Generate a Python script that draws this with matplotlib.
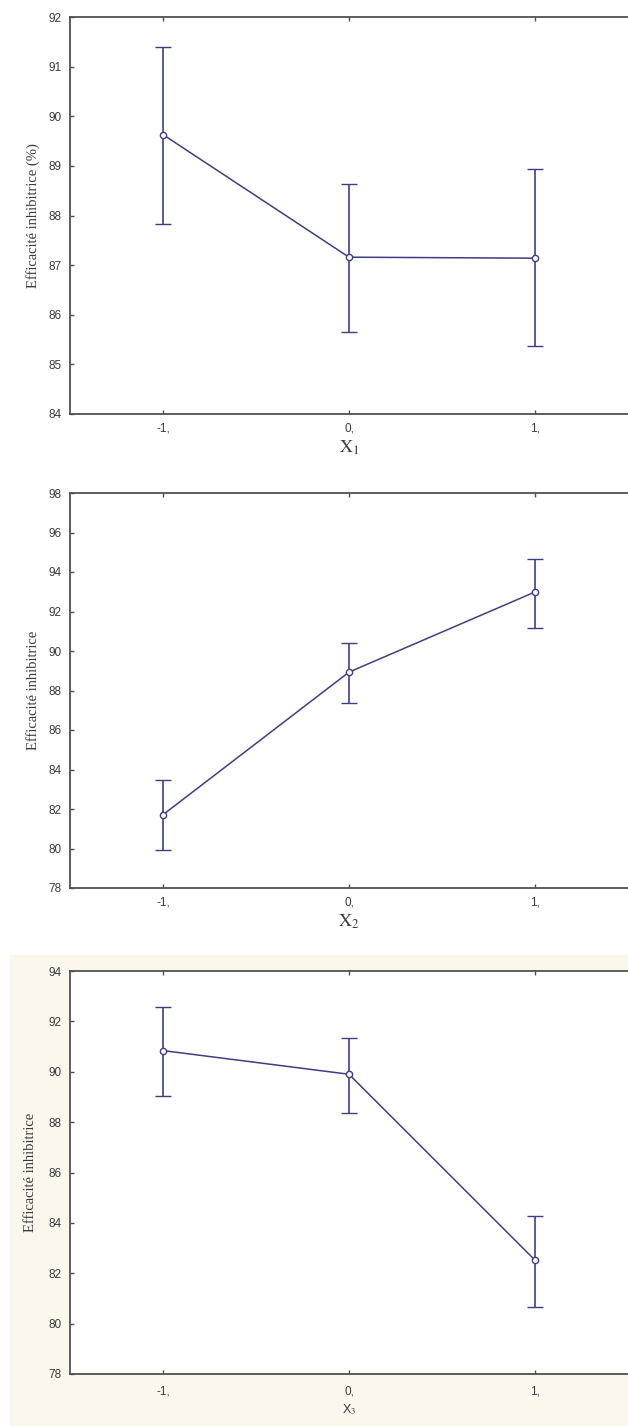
import matplotlib
matplotlib.use("Agg")
import matplotlib.pyplot as plt
from matplotlib.patches import Rectangle

# ---- data ----
levels = [-1, 0, 1]
tick_labels = ["-1,", "0,", "1,"]

x1_mean = [89.63, 87.16, 87.14]
x1_low = [87.83, 85.66, 85.37]
x1_high = [91.39, 88.64, 88.93]

x2_mean = [81.71, 88.93, 92.99]
x2_low = [79.90, 87.36, 91.17]
x2_high = [83.45, 90.38, 94.67]

x3_mean = [90.84, 89.90, 82.52]
x3_low = [89.05, 88.36, 80.66]
x3_high = [92.59, 91.35, 84.28]

y1_ticks = [84, 85, 86, 87, 88, 89, 90, 91, 92]
y2_ticks = [78, 80, 82, 84, 86, 88, 90, 92, 94, 96, 98]
y3_ticks = [78, 80, 82, 84, 86, 88, 90, 92, 94]

ylabel1 = "Efficacité inhibitrice (%)"
ylabel23 = "Efficacité inhibitrice"

W, H = 628, 1426
fig = plt.figure(figsize=(W / 100, H / 100), dpi=100)
fig.patch.set_facecolor("white")

# cream background for lower panel
fig.add_artist(Rectangle((10 / W, 0), 1 - 10 / W, 1 - 955 / H,
                         transform=fig.transFigure, facecolor="#fcf7ec",
                         edgecolor="none", zorder=0))

LINE = "#3e3e84"
SPINE = "#505050"
TXT = "#3a3a3a"

plt.rcParams["mathtext.fontset"] = "stix"


def make_ax(top, bottom, mean, low, high, yticks, ylabel, xlabel, xlabel_kw, label_pad_y,
            xpad=6, xlabelpad=3):
    left, right = 70, 628
    ax = fig.add_axes([left / W, 1 - bottom / H, (right - left) / W, (bottom - top) / H])
    ax.set_facecolor("white")
    yerr = [[m - l for m, l in zip(mean, low)], [h - m for m, h in zip(mean, high)]]
    ax.errorbar(levels, mean, yerr=yerr, color=LINE, lw=1.1, capsize=6, capthick=1.2,
                elinewidth=1.2, marker="o", ms=4.5, mfc="white", mec=LINE, mew=1.0, zorder=3)
    ax.set_xlim(-1.5, 1.5)
    ax.set_ylim(yticks[0], yticks[-1])
    ax.set_xticks(levels)
    ax.set_xticklabels(tick_labels)
    ax.set_yticks(yticks)
    ax.set_yticklabels([str(t) for t in yticks])
    for s in ax.spines.values():
        s.set_color(SPINE)
        s.set_linewidth(1.3)
    ax.spines["right"].set_color("#e2e2e2")
    ax.spines["right"].set_linewidth(0.8)
    ax.tick_params(direction="in", length=3, width=1, color=SPINE, top=True, right=False,
                   labelsize=8.5, labelcolor=TXT, pad=6)
    ax.tick_params(axis="x", pad=xpad)
    for lab in ax.get_xticklabels() + ax.get_yticklabels():
        lab.set_fontfamily("Liberation Sans")
    ax.set_ylabel(ylabel, fontfamily="Liberation Serif", fontsize=10.5, color=TXT, labelpad=label_pad_y)
    ax.set_xlabel(xlabel, color=TXT, labelpad=xlabelpad, **xlabel_kw)
    return ax


make_ax(17, 414, x1_mean, x1_low, x1_high, y1_ticks, ylabel1, r"$\mathrm{X_1}$",
        dict(fontsize=13), 6)
make_ax(493, 888, x2_mean, x2_low, x2_high, y2_ticks, ylabel23, r"$\mathrm{X_2}$",
        dict(fontsize=13), 6)
make_ax(971, 1374, x3_mean, x3_low, x3_high, y3_ticks, ylabel23, "X$_3$",
        dict(fontsize=9, fontfamily="Liberation Sans"), 8, xpad=8, xlabelpad=4)

fig.savefig("out.png", dpi=100)
